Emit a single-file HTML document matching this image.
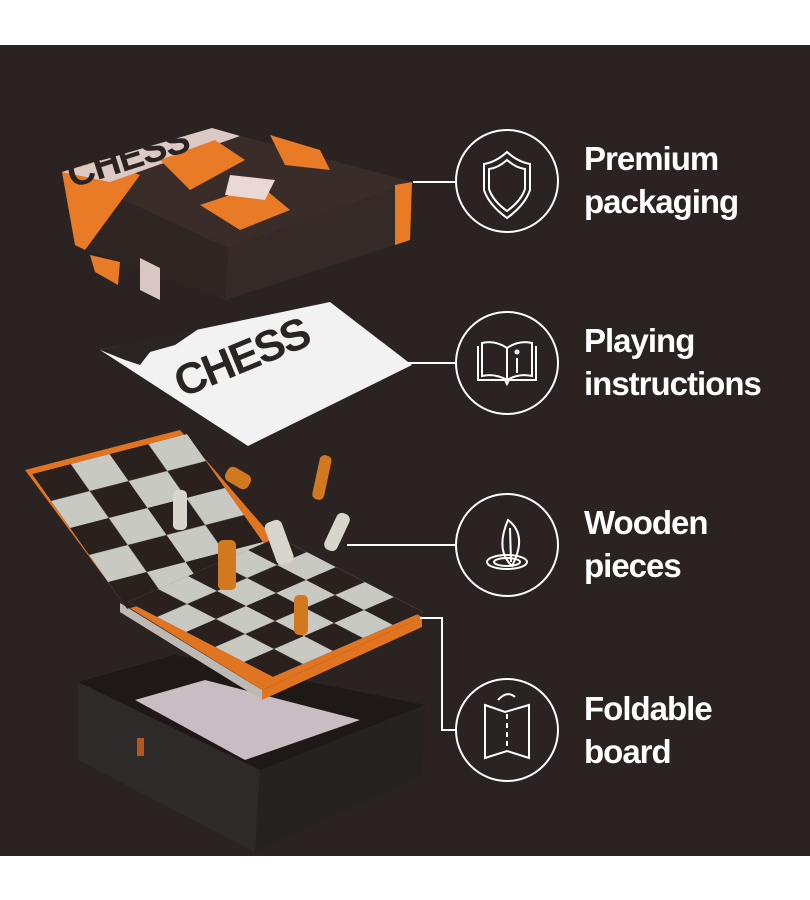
<!DOCTYPE html>
<html><head><meta charset="utf-8"><style>
html,body{margin:0;padding:0;background:#fff;}
svg{display:block}
text{font-family:"Liberation Sans",sans-serif;font-weight:bold;fill:#fff;font-size:33px;letter-spacing:-1px}
</style></head><body>
<svg width="810" height="900" viewBox="0 0 810 900" xmlns="http://www.w3.org/2000/svg">
<defs>
<pattern id="chk" width="2" height="2" patternUnits="userSpaceOnUse">
<rect width="2" height="2" fill="#c9c9c4"/>
<rect width="1" height="1" fill="#2a211f"/>
<rect x="1" y="1" width="1" height="1" fill="#2a211f"/>
</pattern>
</defs>
<rect x="0" y="45" width="810" height="811" fill="#2b2321"/>

<!-- bottom box -->
<polygon points="78,682 175,655 425,705 260,770" fill="#1e1817"/>
<polygon points="78,682 78,760 255,852 260,770" fill="#2e2a29"/>
<polygon points="260,770 255,852 422,775 425,705" fill="#262221"/>
<polygon points="135,700 205,680 360,720 245,760" fill="#c9bcc2"/>
<rect x="137" y="738" width="7" height="18" fill="#b5561c"/>

<!-- board -->
<polygon points="25,470 180,430 275,540 125,605" fill="#e07420"/>
<polygon points="125,605 275,540 422,617 262,690" fill="#e07420"/>
<polygon points="120,603 262,690 262,700 120,612" fill="#bdbab5"/>
<polygon points="262,690 422,617 422,627 262,700" fill="#e07420"/>
<g transform="matrix(38.75,-10,19,27,32,474)"><rect width="4" height="5" fill="url(#chk)"/></g>
<g transform="matrix(30,-13,29,15,128,602)"><rect width="5" height="5" fill="url(#chk)"/></g>

<!-- pieces -->
<g fill="#d2781f">
<rect x="316" y="455" width="12" height="45" rx="5" transform="rotate(12 322 477)"/>
<rect x="218" y="540" width="18" height="50" rx="5"/>
<rect x="294" y="595" width="14" height="40" rx="5"/>
<rect x="225" y="470" width="26" height="16" rx="6" transform="rotate(30 238 478)"/>
</g>
<g fill="#d8d5cc">
<rect x="173" y="490" width="14" height="40" rx="5"/>
<rect x="270" y="520" width="18" height="45" rx="6" transform="rotate(-20 279 542)"/>
<rect x="330" y="512" width="14" height="40" rx="6" transform="rotate(25 337 532)"/>
</g>

<!-- booklet -->
<polygon points="100,350 330,302 412,365 248,446" fill="#f3f2f3"/>
<polygon points="100,350 200,328 175,345 150,352 140,365 125,360" fill="#2a2523"/>
<text x="0" y="0" transform="matrix(0.92,-0.38,0.38,0.92,182,398)" style="fill:#2a2523;font-size:44px;font-weight:900;letter-spacing:-2px">CHESS</text>

<!-- top box -->
<polygon points="62,172 212,128 412,182 228,248" fill="#3a2c28"/>
<polygon points="62,172 75,245 225,300 228,248" fill="#2f2624"/>
<polygon points="228,248 225,300 410,240 412,182" fill="#352a27"/>
<polygon points="62,172 100,160 140,175 85,250 75,245" fill="#e97a26"/>
<polygon points="62,172 212,128 240,136 110,182" fill="#dcc8c4"/>
<polygon points="160,160 215,140 245,160 190,190" fill="#e97a26"/>
<polygon points="200,205 260,185 290,210 240,230" fill="#e97a26"/>
<polygon points="230,175 275,180 265,200 225,195" fill="#e9d8d4"/>
<polygon points="270,135 320,150 330,170 285,165" fill="#e97a26"/>
<polygon points="140,258 160,268 160,300 140,290" fill="#d9c7c4"/>
<polygon points="90,255 120,262 118,285 95,272" fill="#e97a26"/>
<polygon points="395,185 412,182 410,240 395,245" fill="#e97a26"/>
<text x="0" y="0" transform="matrix(0.95,-0.3,0.3,0.95,72,188)" style="fill:#2b2321;font-size:38px;font-weight:900">CHESS</text>

<!-- connectors -->
<g stroke="#fff" stroke-width="2" fill="none">
<line x1="413" y1="182" x2="456" y2="182"/>
<line x1="408" y1="363" x2="456" y2="363"/>
<line x1="347" y1="545" x2="456" y2="545"/>
<polyline points="420,618 442,618 442,730 456,730"/>
<circle cx="507" cy="181" r="51"/>
<circle cx="507" cy="363" r="51"/>
<circle cx="507" cy="545" r="51"/>
<circle cx="507" cy="730" r="51"/>
<path d="M484,164 Q496,162 507,152 Q518,162 530,164 L530,190 Q525,205 507,218 Q489,205 484,190 Z"/>
<path d="M489,169 Q498,168 507,160 Q516,168 525,169 L525,189 Q521,201 507,211 Q493,201 489,189 Z"/>
<path d="M478,346 L478,380 L505,380 L507,384 L509,380 L536,380 L536,346"/>
<path d="M482,343 Q495,340 507,348 Q519,340 532,343 L532,376 Q519,373 507,380 Q495,373 482,376 Z"/>
<line x1="507" y1="348" x2="507" y2="380"/>
<line x1="517" y1="358" x2="517" y2="373"/>
<circle cx="517" cy="352" r="1.5"/>
<path d="M508,520 Q528,535 512,566 Q495,550 508,520 Z"/>
<path d="M510,528 L511,562"/>
<ellipse cx="507" cy="562" rx="20" ry="7"/>
<ellipse cx="507" cy="562" rx="13" ry="4"/>
<path d="M485,705 L505,712 L529,705 L529,758 L507,751 L485,758 Z"/>
<line x1="507" y1="714" x2="507" y2="749" stroke-dasharray="5,4"/>
<path d="M498,700 Q507,690 515,697"/>
</g>

<text x="584" y="170">Premium</text>
<text x="584" y="213">packaging</text>
<text x="584" y="352">Playing</text>
<text x="584" y="395">instructions</text>
<text x="584" y="534">Wooden</text>
<text x="584" y="577">pieces</text>
<text x="584" y="720">Foldable</text>
<text x="584" y="763">board</text>
</svg>
</body></html>
